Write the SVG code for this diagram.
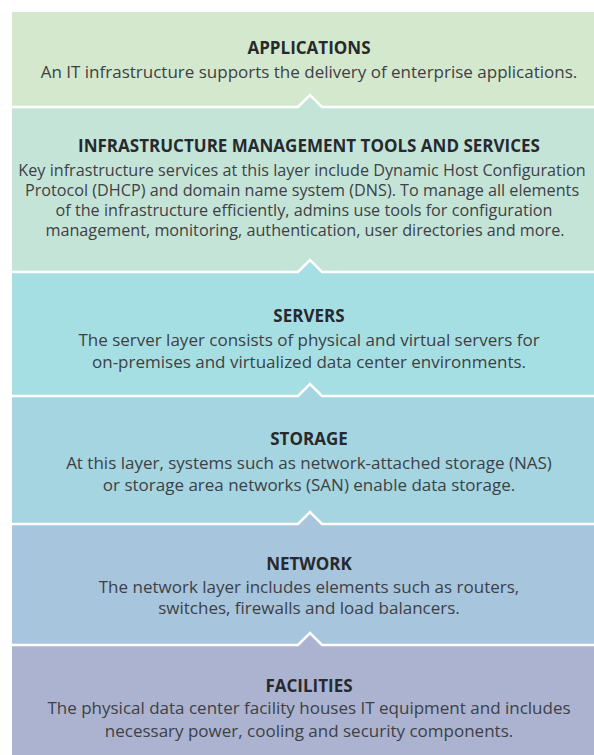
<svg xmlns="http://www.w3.org/2000/svg" width="594" height="755" viewBox="0 0 594 755">
<style>
.t{font-family:"Open Sans","Noto Sans","Liberation Sans",sans-serif;font-weight:700;font-size:17px;fill:#262a2e;text-anchor:middle}
.b{font-family:"Open Sans","Noto Sans","Liberation Sans",sans-serif;font-size:17px;fill:#3d4145;text-anchor:middle}
.bi{font-size:16.2px}
.sep{fill:none;stroke:#ffffff;stroke-width:2.5;stroke-linejoin:miter}
</style>
<rect width="594" height="755" fill="#ffffff"/>
<g id="applications">
<rect x="12" y="12" width="582" height="95" fill="#d4e8cd"/>
<text class="t" x="309" y="54">APPLICATIONS</text>
<text class="b" x="309" y="78">An IT infrastructure supports the delivery of enterprise applications.</text>
</g>
<g id="infrastructure-management">
<path d="M12 107H298L310 95L322 107H594V272H12Z" fill="#c5e4d8"/>
<text class="t" x="309" y="152">INFRASTRUCTURE MANAGEMENT TOOLS AND SERVICES</text>
<text class="b bi" x="302" y="176">Key infrastructure services at this layer include Dynamic Host Configuration</text>
<text class="b bi" x="302" y="196">Protocol (DHCP) and domain name system (DNS). To manage all elements</text>
<text class="b bi" x="304" y="216">of the infrastructure efficiently, admins use tools for configuration</text>
<text class="b bi" x="305" y="236">management, monitoring, authentication, user directories and more.</text>
</g>
<g id="servers">
<path d="M12 272H298L310 260L322 272H594V396H12Z" fill="#a6dfe3"/>
<text class="t" x="309" y="322">SERVERS</text>
<text class="b" x="309" y="346">The server layer consists of physical and virtual servers for</text>
<text class="b" x="309" y="368">on-premises and virtualized data center environments.</text>
</g>
<g id="storage">
<path d="M12 396H298L310 384L322 396H594V524H12Z" fill="#a5d5e1"/>
<text class="t" x="309" y="445">STORAGE</text>
<text class="b" x="309" y="469">At this layer, systems such as network-attached storage (NAS)</text>
<text class="b" x="309" y="491">or storage area networks (SAN) enable data storage.</text>
</g>
<g id="network">
<path d="M12 524H298L310 512L322 524H594V645H12Z" fill="#a8c5de"/>
<text class="t" x="309" y="570">NETWORK</text>
<text class="b" x="309" y="593">The network layer includes elements such as routers,</text>
<text class="b" x="309" y="614">switches, firewalls and load balancers.</text>
</g>
<g id="facilities">
<path d="M12 645H298L310 633L322 645H594V755H12Z" fill="#abb3d1"/>
<text class="t" x="309" y="692">FACILITIES</text>
<text class="b" x="309" y="714">The physical data center facility houses IT equipment and includes</text>
<text class="b" x="309" y="737">necessary power, cooling and security components.</text>
</g>
<g id="connectors">
<path class="sep" d="M12 107H298L310 95L322 107H594"/>
<path class="sep" d="M12 272H298L310 260L322 272H594"/>
<path class="sep" d="M12 396H298L310 384L322 396H594"/>
<path class="sep" d="M12 524H298L310 512L322 524H594"/>
<path class="sep" d="M12 645H298L310 633L322 645H594"/>
</g>
</svg>
